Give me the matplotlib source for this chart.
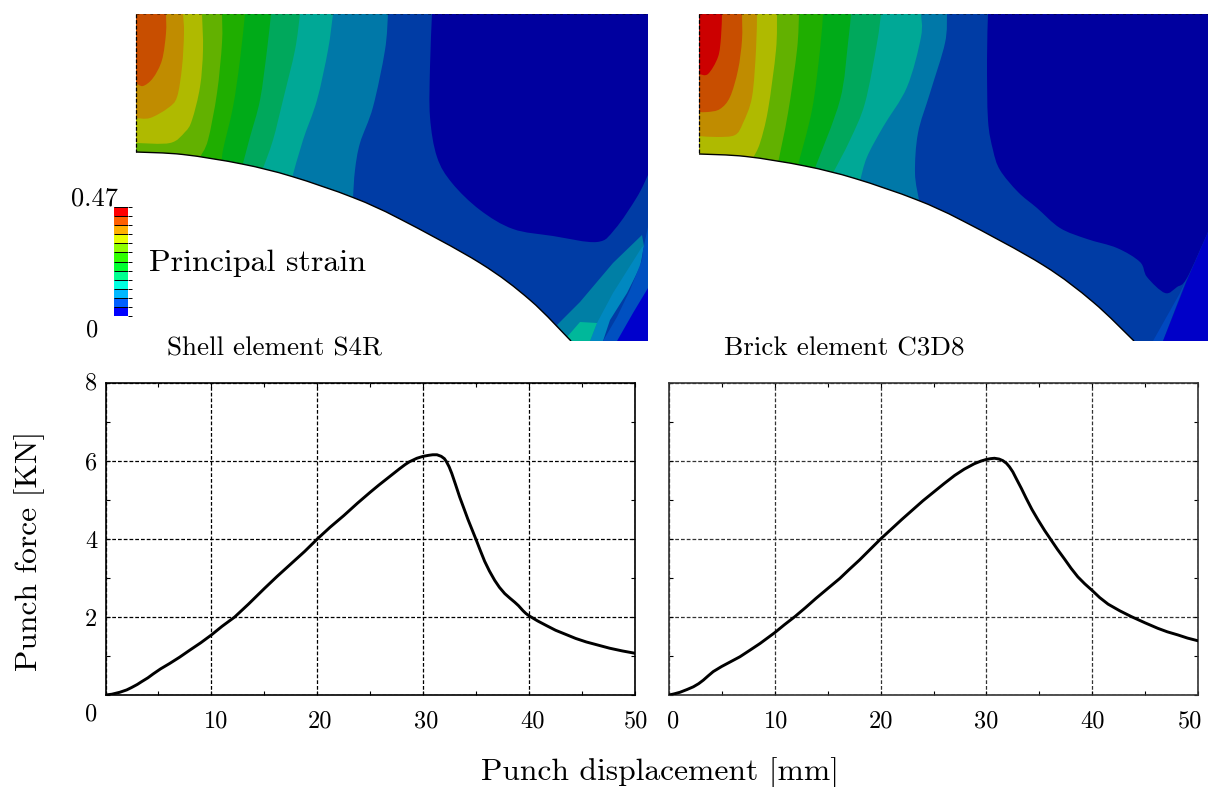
"""
Punch force vs displacement for shell and brick elements, with strain contours above
"""
import numpy as np
import matplotlib
matplotlib.use('Agg')
import matplotlib.pyplot as plt
from matplotlib.colors import ListedColormap
from matplotlib.patches import PathPatch, Polygon
from matplotlib.path import Path
from matplotlib.transforms import ScaledTranslation

plt.rcParams['font.family'] = ['cmr10', 'DejaVu Sans']
plt.rcParams['axes.formatter.use_mathtext'] = True

W, H = 1208, 787

# force curves
shell_disp = [0, 0.6, 1.35, 2, 2.45, 3, 3.4, 4, 4.5, 5.2, 6.07, 7, 7.96, 9, 10, 11, 12.2, 13.5, 15, 16.2, 17.5, 18.8,
              20, 21.2, 22.5, 23.8, 25, 25.8, 26.5, 27.2, 27.76, 28.3, 28.7, 29.4, 30, 30.5, 30.9, 31.3, 31.7, 32,
              32.2, 32.45, 32.7, 33.05, 33.44, 33.85, 34.23, 34.6, 35, 35.4, 35.8, 36.25, 36.75, 37.2, 37.7, 38.2,
              38.64, 39, 39.43, 39.7, 40, 40.8, 41.64, 42.5, 43.5, 44.4, 45.4, 46.5, 47.6, 48.8, 50]
shell_force = [0, 0.02, 0.07, 0.13, 0.19, 0.27, 0.34, 0.44, 0.54, 0.67, 0.81, 0.97, 1.15, 1.34, 1.54, 1.76, 2.0, 2.33,
               2.73, 3.04, 3.36, 3.68, 4.0, 4.3, 4.6, 4.92, 5.2, 5.38, 5.53, 5.68, 5.8, 5.91, 5.98, 6.07, 6.12, 6.145,
               6.16, 6.16, 6.12, 6.06, 5.98, 5.85, 5.68, 5.4, 5.08, 4.78, 4.5, 4.25, 3.98, 3.7, 3.43, 3.18, 2.94, 2.76,
               2.6, 2.48, 2.38, 2.29, 2.16, 2.09, 2.03, 1.9, 1.78, 1.66, 1.55, 1.45, 1.36, 1.28, 1.2, 1.13, 1.07]
brick_disp = [0, 0.5, 1.04, 1.7, 2.3, 2.8, 3.24, 3.7, 4.18, 4.97, 5.8, 6.7, 7.6, 8.6, 10, 10.9, 11.9, 12.9, 13.9, 15,
              16.15, 17, 18, 19, 20, 21, 22, 23, 24, 25, 26, 27, 27.9, 28.86, 29.5, 30, 30.4, 30.76, 31.2, 31.55, 31.9,
              32.18, 32.5, 32.8, 33.3, 33.75, 34.3, 34.86, 35.5, 36.1, 36.7, 37.4, 38, 38.64, 39.3, 40, 40.7, 41.5,
              42.6, 43.7, 45, 46.2, 47.1, 48.1, 49, 50]
brick_force = [0, 0.03, 0.07, 0.14, 0.21, 0.29, 0.38, 0.49, 0.6, 0.73, 0.85, 0.98, 1.14, 1.32, 1.6, 1.8, 2.01, 2.24,
               2.48, 2.73, 2.99, 3.21, 3.46, 3.73, 4.0, 4.25, 4.5, 4.74, 4.98, 5.2, 5.42, 5.63, 5.79, 5.93, 6.0, 6.04,
               6.06, 6.07, 6.05, 6.01, 5.94, 5.85, 5.72, 5.56, 5.3, 5.05, 4.76, 4.5, 4.22, 3.98, 3.74, 3.48, 3.25, 3.03,
               2.85, 2.68, 2.5, 2.33, 2.16, 2.01, 1.85, 1.71, 1.62, 1.54, 1.46, 1.39]

# colour bar segments, top to bottom
bar_colors = ['#FF0000', '#FF6000', '#FFB000', '#E8FF00', '#90FF00', '#30FF00',
              '#00FF30', '#00FF90', '#00FFE0', '#00B8FF', '#0060FF', '#0000FF']

# contour colours, strongest strain first
c_red = '#CC0000'
c_orange = '#C84E00'
c_brown = '#C08C00'
c_yellow = '#AFBA00'
c_green1 = '#62B100'
c_green2 = '#1FAE00'
c_green3 = '#00AB18'
c_green4 = '#00A85C'
c_teal = '#00A896'
c_steel = '#0078A8'
c_blue = '#003CA5'
c_navy = '#00009F'

shell_arc = [(136, 152), (183, 154.5), (242, 164), (292, 176.5), (353, 197.5), (400, 219), (480, 263),
             (530, 300), (571, 341)]
shell_bands = [
    (c_steel, [(388, 14), (385, 50), (373, 107), (360, 143), (355, 170), (353, 198)]),
    (c_teal, [(333, 14), (328, 50), (317, 100), (303, 140), (292, 178)]),
    (c_green4, [(300, 14), (295, 50), (283, 100), (273, 140), (262, 171)]),
    (c_green3, [(271, 14), (267, 50), (260, 100), (250, 137), (242, 167)]),
    (c_green2, [(245, 14), (240, 60), (233, 107), (223, 150), (222, 163)]),
    (c_green1, [(222, 14), (222, 43), (217, 93), (208, 140), (200, 157)]),
    (c_yellow, [(202, 14), (203, 50), (200, 87), (192, 120), (185, 132), (170, 143), (136, 143)]),
    (c_brown, [(183, 14), (184, 33), (182, 67), (177, 97), (168, 108), (150, 118), (136, 118)]),
    (c_orange, [(166, 14), (166, 33), (162, 60), (153, 78), (143, 86), (136, 83)]),
]
shell_navy = [(432, 14), (430, 67), (430, 117), (437, 157), (452, 183), (480, 210), (513, 229), (553, 236),
              (597, 242), (615, 229), (637, 197), (648, 175)]
shell_patches = [
    ('#007FA5', [(557, 325), (580, 302), (613, 263), (642, 235), (644, 246), (637, 263), (623, 290), (607, 323),
                 (593, 341), (570, 341)]),
    ('#0088C0', [(597, 323), (613, 293), (642, 247), (644, 246), (640, 267), (627, 293), (610, 320), (603, 341),
                 (590, 341)]),
    ('#0050C0', [(648, 227), (643, 250), (642, 260), (630, 290), (617, 317), (603, 341), (648, 341)]),
    ('#0000CC', [(648, 288), (633, 313), (617, 341), (648, 341)]),
    ('#00B89A', [(567, 337), (580, 322), (597, 323), (590, 341), (572, 341)]),
]

brick_arc = [(699, 154), (746, 156.5), (805, 166), (855, 178.5), (916, 199.5), (963, 221), (1043, 265),
             (1093, 302), (1134, 341)]
brick_bands = [
    (c_steel, [(947, 14), (945, 43), (930, 93), (918, 133), (915, 173), (919, 200)]),
    (c_teal, [(921, 14), (921, 37), (907, 87), (883, 127), (867, 157), (860, 181)]),
    (c_green4, [(881, 14), (877, 43), (865, 103), (850, 140), (833, 173)]),
    (c_green3, [(851, 14), (848, 43), (840, 100), (815, 168)]),
    (c_green2, [(823, 14), (820, 50), (812, 110), (798, 165)]),
    (c_green1, [(799, 14), (797, 50), (788, 113), (778, 163)]),
    (c_yellow, [(777, 14), (776, 50), (768, 110), (760, 143), (753, 158)]),
    (c_brown, [(757, 14), (756, 50), (752, 97), (743, 123), (735, 135), (717, 137), (699, 136)]),
    (c_orange, [(742, 14), (742, 40), (738, 70), (730, 97), (720, 109), (708, 112), (699, 112)]),
    (c_red, [(722, 14), (721, 37), (718, 57), (708, 74), (699, 74)]),
]
brick_navy = [(988, 14), (987, 60), (988, 120), (993, 150), (1000, 170), (1018, 192), (1037, 208), (1060, 228),
              (1087, 239), (1117, 248), (1140, 262), (1147, 277), (1165, 293), (1177, 287), (1187, 278), (1208, 232)]
brick_patches = [
    ('#0048C0', [(1153, 341), (1180, 293), (1187, 278), (1163, 341)]),
    ('#0000C8', [(1163, 341), (1187, 280), (1208, 232), (1208, 341)]),
]

x_ticks = [0, 10, 20, 30, 40, 50]
x_minor = [5, 15, 25, 35, 45]
y_ticks = [0, 2, 4, 6, 8]
y_minor = [1, 3, 5, 7]
left_x_labels = ['', '10', '20', '30', '40', '50']
right_x_labels = ['0', '10', '20', '30', '40', '50']
left_y_labels = ['0', '2', '4', '6', '8']


def px_axes(fig, x0, y0, x1, y1):
    return fig.add_axes([x0 / W, 1 - y1 / H, (x1 - x0) / W, (y1 - y0) / H])


def smooth_path(pts, tail):
    # Catmull-Rom through the read points, straight lines along the tail
    pts = np.array(pts, dtype=float)
    n = len(pts)
    verts = [pts[0]]
    codes = [Path.MOVETO]
    for i in range(n - 1):
        p0, p1, p2, p3 = pts[max(i - 1, 0)], pts[i], pts[i + 1], pts[min(i + 2, n - 1)]
        verts += [p1 + (p2 - p0) / 6, p2 - (p3 - p1) / 6, p2]
        codes += [Path.CURVE4] * 3
    for t in tail:
        verts.append(t)
        codes.append(Path.LINETO)
    return Path(verts, codes)


def draw_contour(ax, x0, x1, bands, navy, patches, arc):
    top, bottom = 14, 341
    ax.set_xlim(x0, x1)
    ax.set_ylim(bottom, top)
    ax.axis('off')

    ax.fill_between([x0, x1], top, bottom, color=c_blue, lw=0)
    ax.add_patch(PathPatch(smooth_path(navy, [(x1, top)]), fc=c_navy, ec='none'))
    for color, pts in patches:
        ax.add_patch(Polygon(pts, closed=True, fc=color, ec='none'))
    for color, pts in bands:
        tail = [(x0, pts[-1][1]), (x0, top)]
        ax.add_patch(PathPatch(smooth_path(pts, tail), fc=color, ec='none'))

    # everything under the die radius is white
    ax.add_patch(PathPatch(smooth_path(arc, [(x0, bottom)]), fc='white', ec='none'))
    edge = smooth_path(arc, [])
    ax.add_patch(PathPatch(edge, fc='none', ec='black', lw=1.0))
    ax.plot([x0, x1], [top, top], color='black', lw=0.5, ls=(0, (4, 6)), alpha=0.6, clip_on=False)
    ax.plot([x0, x0], [top, arc[0][1]], color='black', lw=0.9, ls=(0, (3, 1.5)), clip_on=False)


def draw_force(ax, disp, force, x_labels, grid_color):
    ax.plot(disp, force, color='black', lw=2.1, solid_joinstyle='round', zorder=3)
    ax.set_xlim(0, 50)
    ax.set_ylim(0, 8)
    ax.set_xticks(x_ticks)
    ax.set_xticklabels(x_labels)
    ax.set_xticks(x_minor, minor=True)
    ax.set_yticks(y_ticks)
    ax.set_yticks(y_minor, minor=True)
    ax.grid(True, which='major', color=grid_color, lw=0.9, ls=(0, (3, 1.6)))
    ax.tick_params(which='both', direction='in', top=True, right=True, color='black')
    ax.tick_params(which='major', length=3, width=0.8, labelsize=tick_size, pad=11)
    ax.tick_params(which='minor', length=3, width=0.8)
    for sp in ax.spines.values():
        sp.set_linewidth(1.2)
        sp.set_color(grid_color)


def shift_labels(labels, fig, offsets):
    for lab, (dx, dy) in zip(labels, offsets):
        lab.set_transform(lab.get_transform() + ScaledTranslation(dx / 100, dy / 100, fig.dpi_scale_trans))


def px_text(fig, x, y, s, **kw):
    return fig.text(x / W, 1 - y / H, s, va='center', **kw)


tick_size = 17.5

fig = plt.figure(figsize=(W / 100, H / 100), dpi=100)

# contour plots
ax_shell = px_axes(fig, 136, 14, 648, 341)
draw_contour(ax_shell, 136, 648, shell_bands, shell_navy, shell_patches, shell_arc)
ax_brick = px_axes(fig, 699, 14, 1208, 341)
draw_contour(ax_brick, 699, 1208, brick_bands, brick_navy, brick_patches, brick_arc)

# colour bar
ax_bar = px_axes(fig, 113.5, 207, 128, 316)
ax_bar.pcolormesh(np.arange(12).reshape(-1, 1), cmap=ListedColormap(bar_colors[::-1]))
ax_bar.hlines(range(13), 0, 1, color='black', lw=0.7)
ax_bar.set_xticks([])
ax_bar.set_yticks(range(13))
ax_bar.set_yticklabels([])
ax_bar.yaxis.tick_right()
ax_bar.tick_params(axis='y', length=3, width=0.7, direction='out')
for sp in ax_bar.spines.values():
    sp.set_visible(False)

# force plots
ax1 = px_axes(fig, 105.5, 383, 635, 695)
draw_force(ax1, shell_disp, shell_force, left_x_labels, 'black')
ax1.set_yticklabels(left_y_labels)
ax1.tick_params(axis='y', pad=6)
shift_labels(ax1.get_xticklabels(), fig, [(0, 0), (5, 0), (3, 0), (3, 0), (3, 0), (1, 0)])
shift_labels(ax1.get_yticklabels(), fig, [(0, -17), (0, 0), (0, 0), (0, 0), (0, 2)])

ax2 = px_axes(fig, 669, 383, 1198, 695)
draw_force(ax2, brick_disp, brick_force, right_x_labels, '#333333')
ax2.set_yticklabels([])
shift_labels(ax2.get_xticklabels(), fig, [(4, 0), (1, 0), (0, 0), (0, 0), (0, 0), (-8, 0)])

# text
px_text(fig, 118, 199, '0.47', ha='right', fontsize=19)
px_text(fig, 98, 330, '0', ha='right', fontsize=17.5)
px_text(fig, 149, 263, 'Principal strain', ha='left', fontsize=23)
px_text(fig, 167, 349, 'Shell element S4R', ha='left', fontsize=19.5)
px_text(fig, 724, 349, 'Brick element C3D8', ha='left', fontsize=19.5)
px_text(fig, 660, 773, 'Punch displacement [mm]', ha='center', fontsize=22.7)
px_text(fig, 30, 551, 'Punch force [KN]', ha='center', rotation=90, fontsize=22.7)

fig.savefig('out.png', dpi=100)
